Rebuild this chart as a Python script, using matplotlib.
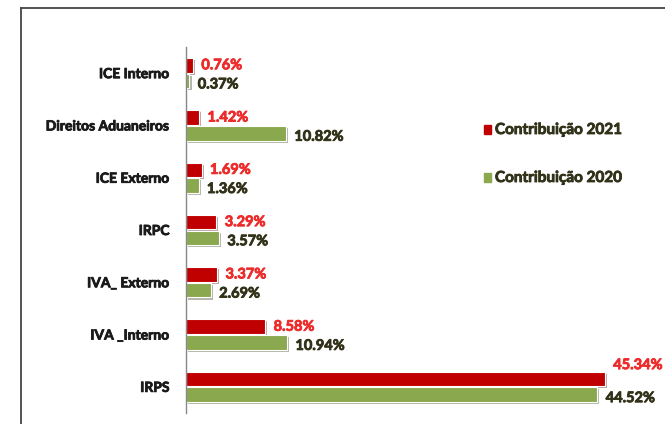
import matplotlib
matplotlib.use("Agg")
import matplotlib.pyplot as plt
import matplotlib.patheffects as pe
from matplotlib.patches import Rectangle
from matplotlib.lines import Line2D
import numpy as np

# Data (bottom to top)
categories = ["IRPS", "IVA _Interno", "IVA_ Externo", "IRPC", "ICE Externo",
              "Direitos Aduaneiros", "ICE Interno"]
contrib_2021 = [45.34, 8.58, 3.37, 3.29, 1.69, 1.42, 0.76]
contrib_2020 = [44.52, 10.94, 2.69, 3.57, 1.36, 10.82, 0.37]
series_names = ["Contribuição 2021", "Contribuição 2020"]

red = "#c00000"
green = "#8aa84e"
red_txt = "#ee2b2b"
dark_txt = "#32321a"

plt.rcParams["font.family"] = ["Lato", "DejaVu Sans"]
plt.rcParams["font.weight"] = "bold"


def heavy(col):
    # thicken the glyphs a little, the original uses a heavy condensed face
    return [pe.withStroke(linewidth=0.6, foreground=col)]


fig = plt.figure(figsize=(6.65, 4.24), dpi=100)
fig.patch.set_facecolor("white")

# frame of the screenshot
fig.add_artist(Line2D([21 / 665, 21 / 665], [0, 1 - 8 / 424], color="#444444", lw=1.3,
                      transform=fig.transFigure))
fig.add_artist(Line2D([21 / 665, 1], [1 - 8 / 424, 1 - 8 / 424], color="#444444", lw=1.3,
                      transform=fig.transFigure))

ax = fig.add_axes([186 / 665, 11 / 424, (648 - 186) / 665, (413 - 47) / 424])
y = np.arange(len(categories))
h = 0.28
shadow = [pe.SimplePatchShadow(offset=(1.5, -1.5), alpha=0.35), pe.Normal()]

b1 = ax.barh(y + 0.15, contrib_2021, height=h, color=red, edgecolor="white", lw=0.8)
b2 = ax.barh(y - 0.15, contrib_2020, height=h, color=green, edgecolor="white", lw=0.8)
for b in list(b1) + list(b2):
    b.set_path_effects(shadow)

for yi, v in zip(y, contrib_2021):
    dy = 10 if v > 40 else 0
    ax.annotate(f"{v:.2f}%", (v, yi + 0.15), xytext=(6, dy), textcoords="offset points",
                ha="left", va="center", color=red_txt, fontsize=10.5, fontweight="bold",
                path_effects=heavy(red_txt))
for yi, v in zip(y, contrib_2020):
    ax.annotate(f"{v:.2f}%", (v, yi - 0.15), xytext=(6, -2.5), textcoords="offset points",
                ha="left", va="center", color=dark_txt, fontsize=10.5, fontweight="bold",
                path_effects=heavy(dark_txt))

ax.set_xlim(0, 50)
ax.set_ylim(-0.5, len(categories) - 0.5)
ax.set_yticks(y)
ax.set_yticklabels(categories, fontsize=10, fontweight="bold", color="#1a1a1a")
for t in ax.get_yticklabels():
    t.set_path_effects(heavy("#1a1a1a"))
ax.tick_params(axis="y", length=0, pad=12)
ax.set_xticks([])
for s in ["top", "right", "bottom"]:
    ax.spines[s].set_visible(False)
ax.spines["left"].set_color("#888888")
ax.spines["left"].set_linewidth(1.0)

# legend
for i, (name, col) in enumerate(zip(series_names, [red, green])):
    yy = 1 - (130 + i * 48) / 424
    fig.add_artist(Rectangle((484 / 665, yy - 4 / 424), 7 / 665, 9 / 424, color=col,
                             transform=fig.transFigure))
    fig.text(495 / 665, yy, name, fontsize=11, fontweight="bold", color=dark_txt,
             va="center", ha="left", path_effects=heavy(dark_txt))

fig.savefig("out.png", dpi=100)
